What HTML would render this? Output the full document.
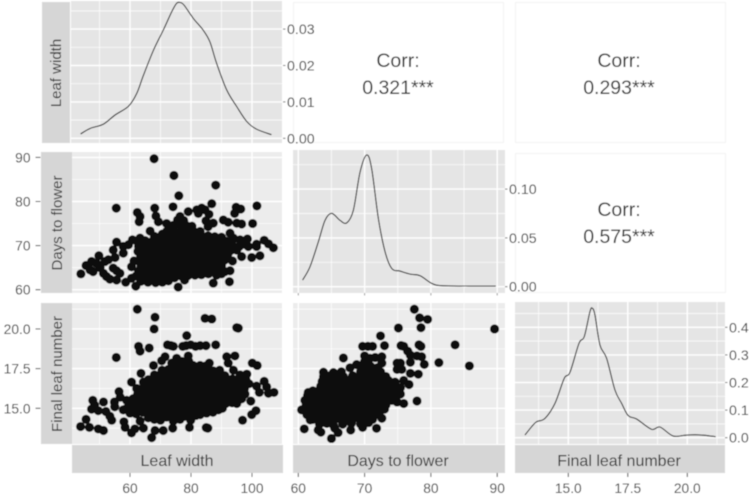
<!DOCTYPE html>
<html lang="en">
<head>
<meta charset="utf-8">
<title>Pairs plot of leaf width, days to flower and final leaf number</title>
<style>
html,body{margin:0;padding:0;background:#fff;width:749px;height:495px;overflow:hidden}
svg{display:block}
text{font-family:"Liberation Sans",sans-serif}
</style>
</head>
<body>
<svg id="chart" xmlns="http://www.w3.org/2000/svg" width="749" height="495" viewBox="0 0 749 495">
  <defs><filter id="soft" x="0" y="0" width="100%" height="100%"><feGaussianBlur stdDeviation="0.4"/></filter></defs>
  <g filter="url(#soft)">
    <rect x="0" y="0" width="749" height="495" fill="#fff"/>
    <g fill="#fff" stroke="#f3f3f3" stroke-width="1">
      <rect x="293.5" y="2.5" width="210" height="140"/>
      <rect x="515.5" y="2.5" width="210" height="140"/>
      <rect x="515.5" y="153.5" width="210" height="139"/>
    </g>
    <g>
      <rect x="71" y="1" width="211" height="142" fill="#e5e5e5"/>
      <rect x="72" y="152" width="210" height="141" fill="#ececec"/>
      <rect x="293" y="150" width="212" height="143" fill="#e5e5e5"/>
      <rect x="72" y="303" width="210" height="141" fill="#ececec"/>
      <rect x="293" y="303" width="212" height="141" fill="#ececec"/>
      <rect x="515" y="302" width="210" height="142" fill="#e5e5e5"/>
    </g>
    <g id="grid"></g>
    <g id="marks"></g>
    <g fill="#d6d6d6">
      <rect x="42" y="2" width="28" height="141"/>
      <rect x="41" y="152" width="31" height="141"/>
      <rect x="41" y="303" width="31" height="141"/>
      <rect x="72" y="445" width="211" height="28"/>
      <rect x="293" y="445" width="212" height="28"/>
      <rect x="515" y="445" width="210" height="28"/>
    </g>
    <g fill="#333">
      <text transform="translate(61,73) rotate(-90)" text-anchor="middle" font-size="15">Leaf width</text>
      <text transform="translate(62,223) rotate(-90)" text-anchor="middle" font-size="15">Days to flower</text>
      <text transform="translate(62,374) rotate(-90)" text-anchor="middle" font-size="15">Final leaf number</text>
      <text x="177" y="466" text-anchor="middle" font-size="16">Leaf width</text>
      <text x="398" y="466" text-anchor="middle" font-size="16">Days to flower</text>
      <text x="619" y="466" text-anchor="middle" font-size="16">Final leaf number</text>
    </g>
    <g fill="#2e2e2e" font-size="19.5" text-anchor="middle">
      <text x="398" y="67">Corr:</text>
      <text x="398" y="94">0.321***</text>
      <text x="619" y="67">Corr:</text>
      <text x="619" y="94">0.293***</text>
      <text x="619" y="216">Corr:</text>
      <text x="619" y="243">0.575***</text>
    </g>
    <g id="axes"></g>
  </g>
</svg>
<script>
/* ---------- data ---------- */
const widthMajor = [60, 80, 100];
const widthMinor = [50, 70, 90];
const daysMajor = [60, 70, 80, 90];
const daysMinor = [65, 75, 85];
const leavesMajor = [15, 17.5, 20];
const leavesMinor = [13.75, 16.25, 18.75, 21.25];
const leavesTickLabels = ['15.0', '17.5', '20.0'];
const density1Major = [0, 0.01, 0.02, 0.03];
const density1Minor = [0.005, 0.015, 0.025, 0.035];
const density1Labels = ['0.00', '0.01', '0.02', '0.03'];
const density2Major = [0, 0.05, 0.10];
const density2Minor = [0.025, 0.075, 0.125];
const density2Labels = ['0.00', '0.05', '0.10'];
const density3Major = [0, 0.1, 0.2, 0.3, 0.4];
const density3Minor = [0.05, 0.15, 0.25, 0.35, 0.45];
const density3Labels = ['0.0', '0.1', '0.2', '0.3', '0.4'];

const widthDensityX = [43.8,46.9,51.3,55.1,59.5,62.2,64.4,67.7,70.9,73.7,75.3,76.4,77.7,80.8,84,86.2,88.4,91.7,95,98.3,101.5,106.4];
const widthDensityY = [.0012,.0027,.0039,.0064,.0088,.0123,.0173,.0242,.0297,.0348,.0371,.0373,.0366,.0329,.0297,.0265,.0206,.0133,.0087,.0046,.0025,.001];
const daysDensityX = [60.65,61.76,63.02,64.03,65.03,66.29,67.3,68.3,69.31,70.32,71.07,72.08,73.09,74.09,75.35,76.86,78.37,80.13,81.64,85.67,89.79];
const daysDensityY = [.0068,.0204,.0459,.068,.0752,.068,.0653,.0782,.1173,.135,.1207,.0697,.0357,.0187,.016,.0129,.0112,.0034,.001,.0007,.0007];
const leavesDensityX = [13.18,13.46,13.67,14.02,14.44,14.83,15.07,15.45,15.67,15.91,16.01,16.12,16.33,16.61,16.96,17.24,17.52,17.87,18.5,18.85,19.41,19.97,20.6,21.19];
const leavesDensityY = [.0097,.0399,.058,.0701,.1245,.2151,.2368,.342,.3662,.4568,.4689,.4447,.336,.2876,.1728,.1245,.0798,.0677,.0302,.0387,.006,.0097,.0097,.0036];

/* Leaf width (x) against days to flower (y) */
const widthVsDays = [
[67.9,89.7],[74.4,85.9],[88.1,83.7],[76,81.3],[55.5,78.5],[68.1,78.5],[74.1,78.8],[101.6,79],[94.8,78.7],[96.3,78.3],[94.3,77.3],[86.8,79.5],
[43.9,63.6],[45.6,65.5],[47.4,66.4],[46.9,64.5],[47.9,64.1],[49.8,67.7],[49,66],[50.2,65],[51.8,66.4],[52.9,66.8],[51.3,63.7],[52.3,63],[53.4,62.4],[54.5,64.9],[55.6,64.3],[56.7,63.7],[55.6,62.2],[58.6,61.7],[60.5,62.6],[61.9,60.8],[55.1,67.3],[54.5,69],[55.6,70.8],[57.8,69.8],[57.8,68.3],[59.5,70.2],[60.8,71.3],[61.3,66.5],[60.5,65.2],[63.3,71.7],[66.6,73.3],[62.4,77.5],[63.3,76.6],[63,75.4],[68.5,76.7],[69.3,75.4],[72,75],[70.6,72.6],
[76.4,76.6],[79.1,77.7],[77.5,74.7],[82.4,77.3],[84.6,78.1],[81.9,78.1],[83.5,78.5],[85.9,77.1],[84.9,75.6],[87.3,75.1],[85.6,74.3],[90.6,75.8],[92.2,75.3],[95,75.1],[96.6,74.9],[100.2,75],
[92.8,72.8],[93.9,71.7],[96.1,71.3],[98.5,71.5],[101.5,70.3],[104,71.2],[105.4,70.4],[107,69.5],[97.7,70.3],[98.8,69.8],[101.5,69.8],[96.6,67.5],[99.9,67.3],[102.6,67.7],[93.6,66.5],[95,69],[92.8,64.3],[91.1,64.1],[92.6,61.8],[87.3,61.5],[88.4,63.3],[75.8,60.6],
[63.5,61.9],[65.9,61.7],[68.4,61.6],[70.6,61.7],[72.6,62],[77.9,62.2],
[62,63.1],[63.7,62.9],[65.6,63],[67.8,62.8],[70.1,63],[72.3,62.9],[74.6,62.7],[76.8,63.1],[79,63.2],[81.3,63.3],[83.4,63.4],[85.7,63.6],[90,63.6],
[62.8,64.2],[64.9,64.1],[67.2,64.3],[69.4,64],[71.6,64.2],[73.8,64.1],[76,64.3],[78.2,64.2],[80.4,64.4],[82.6,64.1],[84.8,64.3],[87,64.6],[89.2,64.5],
[63.6,65.3],[65.7,65.4],[68,65.2],[70.2,65.3],[72.4,65.4],[74.6,65.2],[76.8,65.4],[79,65.3],[81.2,65.2],[83.4,65.4],[85.6,65.3],[87.8,65.4],[90,65.5],
[63,66.4],[65,66.5],[67.2,66.3],[69.4,66.4],[71.6,66.6],[73.8,66.3],[76,66.5],[78.2,66.4],[80.4,66.6],[82.6,66.3],[84.8,66.5],[87,66.4],[89.2,66.6],[91,66.7],
[63.5,67.6],[65.7,67.5],[68,67.7],[70.2,67.5],[72.4,67.6],[74.6,67.4],[76.8,67.7],[79,67.5],[81.2,67.6],[83.4,67.5],[85.6,67.7],[87.8,67.5],[90,67.6],[92,67.8],
[62.6,68.7],[65,68.6],[67.2,68.8],[69.4,68.6],[71.6,68.7],[73.8,68.8],[76,68.6],[78.2,68.7],[80.4,68.8],[82.6,68.6],[84.8,68.7],[87,68.8],[89.2,68.6],[91.4,68.7],[93,68.9],
[62.8,69.9],[64.9,69.8],[67.3,70],[69.5,69.8],[71.7,69.9],[73.9,70],[76.1,69.8],[78.3,69.9],[80.5,70],[82.7,69.8],[84.9,69.9],[87.1,70],[89.3,69.8],[91.5,69.9],[93.5,70],[95.8,69.8],
[62.4,71],[65,71.1],[67.2,70.9],[69.4,71],[71.6,71.2],[73.8,71],[76,71.1],[78.2,70.9],[80.4,71],[82.6,71.2],[84.8,71],[87,71.1],[89.2,70.9],[91.4,71],[93.5,71.1],
[68,72.1],[70.2,72],[72.4,72.2],[74.6,72],[76.8,72.1],[79,72.2],[81.2,72],[83.4,72.1],[85.6,72.2],[87.8,72],[90,71.9],
[72,73.2],[74.3,73.3],[76.5,73.1],[78.7,73.3],[80.9,73.2],[83,73.2],
[74.2,74.6],[76.2,74.8],[78.5,74.5],[80.3,74.4],[75.6,75.8],[77.6,75.7],[73,74.2]
];

/* Leaf width (x) against final leaf number (y) */
const widthVsLeaves = [
[62.4,21.24],[68.2,20.74],[67.9,20],[84.6,20.67],[86.8,20.63],[95,20.08],[95.5,20.05],[78.6,19.58],[62.8,18.9],[63.3,18.6],[66.3,18.8],[55.5,18.2],[72.3,19],[74.2,18.9],[73.4,18.95],[77.3,18.9],[78.4,18.95],[79.9,19],[83,18.95],[81.5,18.9],[84.9,18.95],[88.1,19],[71.5,18.25],[70.4,18],[67.7,17.7],[75.3,18.15],[79.1,18.3],[73.7,17.85],[77,17.95],[83,17.7],[86,17.85],[91.7,18.25],[94.4,18.3],[92.2,17.85],[100.1,17.85],[101.7,17.7],[93.9,17.4],[96.1,17.1],[98.3,17.15],[63.6,17.2],[60.5,16.65],[62.2,16.25],[64.4,16.65],[56.4,16.05],[101.5,16.4],[104,16.7],[104.8,16.35],[102.4,16],[105.4,15.95],[107.2,16],[99.6,15.45],[101.3,14.85],[99.9,14.6],[96.9,14.25],[85.5,13.75],[85,13.78],
[47.8,15.5],[51.3,15.4],[47.4,14.95],[49.6,14.85],[52.1,14.8],[45.6,14.3],[43.8,13.85],[46.7,13.8],[49.6,13.7],[51.3,13.6],[54,14.25],[54.9,15.4],[57.8,14.9],[58,14.15],[58.4,13.8],[60.5,13.45],[61.6,13.7],[63.3,14.2],[64.4,13.75],[67.1,13.15],[68.2,13.6],[70.9,13.6],[74,13.75],[74.2,14.2],[76.4,14.3],[79.5,13.8],[79.9,14.25],[83,14.6],[89,14.9],[55,15.1],[53.4,14.5],[48.4,15.2],[58.9,15.5],[56.8,15.7],
[66,14.4],[68,14.3],[70,14.25],[72,14.45],[78,14.5],[81.6,14.55],
[60,14.7],[62,14.65],[64.2,14.75],[66.2,14.7],[68.3,14.65],[70.4,14.75],[72.5,14.7],[74.6,14.65],[76.7,14.75],[78.8,14.7],[80.9,14.65],[83,14.8],[85.1,14.7],[87.2,14.75],
[59,15],[61,15.05],[63,14.95],[65.1,15],[67.2,15.05],[69.3,14.95],[71.4,15],[73.5,15.05],[75.6,14.95],[77.7,15],[79.8,15.05],[81.9,14.95],[84,15],[86.1,15.05],[88.2,15],[90.3,15],
[60,15.3],[62,15.35],[64.1,15.25],[66.2,15.3],[68.3,15.35],[70.4,15.25],[72.5,15.3],[74.6,15.35],[76.7,15.25],[78.8,15.3],[80.9,15.35],[83,15.25],[85.1,15.3],[87.2,15.35],[89.3,15.25],[91.4,15.3],[93.5,15.35],[95,15.3],
[61,15.6],[63,15.65],[65.1,15.55],[67.2,15.6],[69.3,15.65],[71.4,15.55],[73.5,15.6],[75.6,15.65],[77.7,15.55],[79.8,15.6],[81.9,15.65],[84,15.55],[86.1,15.6],[88.2,15.65],[90.3,15.55],[92.4,15.6],[94.5,15.65],[96.6,15.6],
[62.5,15.9],[64.1,15.95],[66.2,15.85],[68.3,15.9],[70.4,15.95],[72.5,15.85],[74.6,15.9],[76.7,15.95],[78.8,15.85],[80.9,15.9],[83,15.95],[85.1,15.85],[87.2,15.9],[89.3,15.95],[91.4,15.85],[93.5,15.9],[95.6,15.95],[97.7,15.9],
[64,16.2],[66,16.25],[68.1,16.15],[70.2,16.2],[72.3,16.25],[74.4,16.15],[76.5,16.2],[78.6,16.25],[80.7,16.15],[82.8,16.2],[84.9,16.25],[87,16.15],[89.1,16.2],[91.2,16.25],[93.3,16.15],[95.4,16.2],[97.5,16.25],
[66,16.5],[68,16.55],[70.1,16.45],[72.2,16.5],[74.3,16.55],[76.4,16.45],[78.5,16.5],[80.6,16.55],[82.7,16.45],[84.8,16.5],[86.9,16.55],[89,16.45],[91.1,16.5],[93.2,16.55],[95.3,16.45],[97.4,16.5],[99,16.55],
[66,16.8],[68.4,16.85],[70.5,16.75],[72.6,16.8],[74.7,16.85],[76.8,16.75],[78.9,16.8],[81,16.85],[83.1,16.75],[85.2,16.8],[87.3,16.85],[89.4,16.75],[91.5,16.8],[93.6,16.85],[95.7,16.75],[98,16.8],
[68,17.1],[70.1,17.15],[72.2,17.05],[74.3,17.1],[76.4,17.15],[78.5,17.05],[80.6,17.1],[82.7,17.15],[84.8,17.05],[86.9,17.1],[89,17.15],[91.1,17.05],
[70.5,17.4],[72.6,17.45],[74.7,17.35],[76.8,17.4],[78.9,17.45],[81,17.35],[83.1,17.4],[85.2,17.45],[87.3,17.35],[89.4,17.4],
[74.4,17.7],[76.5,17.75],[78.6,17.65],[80.7,17.7],[84.6,17.65],[79.3,17.95]
];

/* Days to flower (x) against final leaf number (y) */
const daysVsLeaves = [
[77.5,21.24],[78.3,20.7],[79.5,20.6],[75.1,20.06],[78.5,20.08],[89.6,20],[72.4,19.56],[83.65,19],[78.2,19],[78.5,18.9],[85.8,17.67],[81.2,17.88],[79,17.77],[73,18.95],[69.7,18.9],[70.5,18.9],[71.2,18.9],[75.5,18.95],[75.9,18.9],[76.5,18.6],[76.9,18.35],[77.9,18.3],[78.6,18.25],[66.8,18.17],[70,18.3],[70.8,18.15],[71.6,18.2],[72.6,18.25],[72.6,17.85],[70,17.95],[68.8,17.75],[67.8,17.55],[74.9,17.85],[75.4,17.85],[74.9,17.45],[75.6,17.45],[76.9,17.9],[76.9,17.2],[78.1,17.15],[76.7,16.5],[75.9,16.75],[77.9,15.46],[74.1,15.5],[74.9,15.4],[75.9,15.3],[72.6,14.37],[71.8,13.74],[69.7,13.8],[67.9,13.63],[66,13.47],[65.5,13.74],[65,13.1],[63.4,13.5],[63,13.63],[60.9,13.7],[61.8,14.27],[60.5,14.9],[61.5,16],[63.8,17.27],
[63.2,14],[64.3,14.05],[65.3,13.95],[66.7,14],[68,14.05],[69.4,14],[70.6,14.1],
[62.2,14.3],[63.2,14.35],[64.2,14.25],[65.2,14.3],[66.2,14.35],[67.2,14.25],[68.2,14.3],[69.2,14.35],[70.2,14.25],[71.2,14.3],
[61.3,14.6],[62.4,14.65],[63.4,14.55],[64.4,14.6],[65.4,14.65],[66.4,14.55],[67.4,14.6],[68.4,14.65],[69.4,14.55],[70.4,14.6],[71.4,14.65],[72.2,14.6],
[60.9,14.95],[62,14.9],[63,15],[64,14.9],[65,14.95],[66,14.85],[67,14.9],[68,15],[69,14.9],[70,14.95],[71,14.85],[72,14.9],[73,14.95],
[61.2,15.2],[62.2,15.25],[63.2,15.15],[64.2,15.2],[65.2,15.25],[66.2,15.15],[67.2,15.2],[68.2,15.25],[69.2,15.15],[70.2,15.2],[71.2,15.25],[72.2,15.15],[73.2,15.2],
[61,15.5],[62,15.55],[63,15.45],[64,15.5],[65,15.55],[66,15.45],[67,15.5],[68,15.55],[69,15.45],[70,15.5],[71,15.55],[72,15.45],[73,15.5],
[61.4,15.8],[62.4,15.85],[63.4,15.75],[64.4,15.8],[65.4,15.85],[66.4,15.75],[67.4,15.8],[68.4,15.85],[69.4,15.75],[70.4,15.8],[71.4,15.85],[72.4,15.75],[73.4,15.8],[74.4,15.85],[75.4,15.9],
[62.2,16.1],[63.2,16.15],[64.2,16.05],[65.2,16.1],[66.2,16.15],[67.2,16.05],[68.2,16.1],[69.2,16.15],[70.2,16.05],[71.2,16.1],[72.2,16.15],[73.2,16.05],[74.2,16.1],[75.2,16.15],
[63.4,16.4],[64.4,16.45],[65.4,16.35],[66.4,16.4],[67.4,16.45],[68.4,16.35],[69.4,16.4],[70.4,16.45],[71.4,16.35],[72.4,16.4],[73.4,16.45],[74.4,16.35],[75.4,16.3],
[63.6,16.7],[64.6,16.75],[65.6,16.65],[66.6,16.7],[67.6,16.75],[68.6,16.65],[69.6,16.7],[70.6,16.75],[71.6,16.65],[72.6,16.7],[73.6,16.75],[74.6,16.65],
[63.8,17],[64.8,17.05],[65.8,16.95],[66.8,17],[68.2,17.05],[69.2,16.95],[70.2,17],[71.2,17.05],[72.2,16.95],[73.2,17],
[65.3,17.25],[66.5,17.3],[69.4,17.3],[70.4,17.35],[71.4,17.25],[72.4,17.3],[69.9,17.6],[70.9,17.65],[71.9,17.55]
];

/* ---------- scales ---------- */
const xWidth = v => 130 + (v - 60) * 3.05;
const xDays = v => 298.3 + (v - 60) * 6.63;
const xLeaves = v => 568.3 + (v - 15) * 23.8;
const yDaysRow = v => 289.7 - (v - 60) * 4.41;
const yLeavesRow = v => 408.3 - (v - 15) * 15.87;
const yDensity1 = v => 138.3 - v * 3640;
const yDensity2 = v => 286.7 - v * 976;
const yDensity3 = v => 437.7 - v * 276;

const SVG_NS = 'http://www.w3.org/2000/svg';
const gridLayer = document.getElementById('grid');
const marksLayer = document.getElementById('marks');
const axesLayer = document.getElementById('axes');

function line(parent, x1, y1, x2, y2, color, width) {
  const el = document.createElementNS(SVG_NS, 'line');
  el.setAttribute('x1', x1);
  el.setAttribute('y1', y1);
  el.setAttribute('x2', x2);
  el.setAttribute('y2', y2);
  el.setAttribute('stroke', color);
  el.setAttribute('stroke-width', width);
  parent.appendChild(el);
  return el;
}

function label(str, x, y, anchor, size) {
  const el = document.createElementNS(SVG_NS, 'text');
  el.setAttribute('x', x);
  el.setAttribute('y', y);
  el.setAttribute('text-anchor', anchor);
  el.setAttribute('font-size', size);
  el.setAttribute('fill', '#383838');
  el.textContent = str;
  
  
  axesLayer.appendChild(el);
}

function grid(left, right, top, bottom, xs, xMajorVals, xMinorVals, ys, yMajorVals, yMinorVals) {
  yMinorVals.forEach(v => {
    const el = line(gridLayer, left, ys(v), right, ys(v), '#fff', 0.7);
    
    
  });
  xMinorVals.forEach(v => {
    const el = line(gridLayer, xs(v), top, xs(v), bottom, '#fff', 0.7);
    
    
  });
  yMajorVals.forEach(v => {
    const el = line(gridLayer, left, ys(v), right, ys(v), '#fff', 1.4);
    
    
  });
  xMajorVals.forEach(v => {
    const el = line(gridLayer, xs(v), top, xs(v), bottom, '#fff', 1.4);
    
    
  });
}

function scatter(points, xs, ys, name) {
  points.forEach(p => {
    const dot = document.createElementNS(SVG_NS, 'circle');
    dot.setAttribute('cx', xs(p[0]));
    dot.setAttribute('cy', ys(p[1]));
    dot.setAttribute('r', 4.6);
    dot.setAttribute('fill', '#0b0b0b');
    
    
    marksLayer.appendChild(dot);
  });
}

function curve(xv, yv, xs, ys, name) {
  const px = xv.map(xs);
  const py = yv.map(ys);
  let d = 'M' + px[0] + ' ' + py[0];
  for (let i = 0; i < px.length - 1; i++) {
    const a = Math.max(i - 1, 0), c = i + 1, e = Math.min(i + 2, px.length - 1);
    const c1x = px[i] + (px[c] - px[a]) / 6;
    const c1y = py[i] + (py[c] - py[a]) / 6;
    const c2x = px[c] - (px[e] - px[i]) / 6;
    const c2y = py[c] - (py[e] - py[i]) / 6;
    d += ' C' + c1x + ' ' + c1y + ' ' + c2x + ' ' + c2y + ' ' + px[c] + ' ' + py[c];
  }
  const path = document.createElementNS(SVG_NS, 'path');
  path.setAttribute('d', d);
  path.setAttribute('fill', 'none');
  path.setAttribute('stroke', '#1a1a1a');
  path.setAttribute('stroke-width', 1.1);
  
  
  marksLayer.appendChild(path);
}

function leftAxis(vals, labels, ys) {
  vals.forEach((v, i) => {
    const t = line(axesLayer, 35.5, ys(v), 40.5, ys(v), '#4a4a4a', 1);
    
    
    label(labels[i], 30.5, ys(v) + 5, 'end', 13.8);
  });
}

function rightAxis(vals, labels, ys, x) {
  vals.forEach((v, i) => {
    const t = line(axesLayer, x, ys(v), x + 2.5, ys(v), '#777', 1);
    
    
    label(labels[i], x + 4, ys(v) + 5, 'start', 14.2);
  });
}

function bottomAxis(vals, labels, xs) {
  vals.forEach((v, i) => {
    const t = line(axesLayer, xs(v), 473, xs(v), 477, '#4a4a4a', 1);
    
    
    label(labels[i], xs(v), 493, 'middle', 13.8);
  });
}

/* ---------- draw ---------- */
grid(71, 282, 1, 143, xWidth, widthMajor, widthMinor, yDensity1, density1Major, density1Minor);
grid(72, 282, 152, 293, xWidth, widthMajor, widthMinor, yDaysRow, daysMajor, daysMinor);
grid(293, 505, 150, 293, xDays, daysMajor, daysMinor, yDensity2, density2Major, density2Minor);
grid(72, 282, 303, 444, xWidth, widthMajor, widthMinor, yLeavesRow, leavesMajor, leavesMinor);
grid(293, 505, 303, 444, xDays, daysMajor, daysMinor, yLeavesRow, leavesMajor, leavesMinor);
grid(515, 725, 302, 444, xLeaves, leavesMajor, leavesMinor, yDensity3, density3Major, density3Minor);

scatter(widthVsDays, xWidth, yDaysRow, 'point-width-days');
scatter(widthVsLeaves, xWidth, yLeavesRow, 'point-width-leaves');
scatter(daysVsLeaves, xDays, yLeavesRow, 'point-days-leaves');
curve(widthDensityX, widthDensityY, xWidth, yDensity1, 'density-leaf-width');
curve(daysDensityX, daysDensityY, xDays, yDensity2, 'density-days-to-flower');
curve(leavesDensityX, leavesDensityY, xLeaves, yDensity3, 'density-final-leaf-number');

leftAxis(daysMajor, daysMajor.map(String), yDaysRow);
leftAxis(leavesMajor, leavesTickLabels, yLeavesRow);
rightAxis(density1Major, density1Labels, yDensity1, 283);
rightAxis(density2Major, density2Labels, yDensity2, 505);
rightAxis(density3Major, density3Labels, yDensity3, 725);
bottomAxis(widthMajor, widthMajor.map(String), xWidth);
bottomAxis(daysMajor, daysMajor.map(String), xDays);
bottomAxis(leavesMajor, leavesTickLabels, xLeaves);
daysMajor.forEach(v => {
  const t = line(axesLayer, xDays(v), 293, xDays(v), 295.5, '#999', 1);
  
  
});
</script>
</body>
</html>
